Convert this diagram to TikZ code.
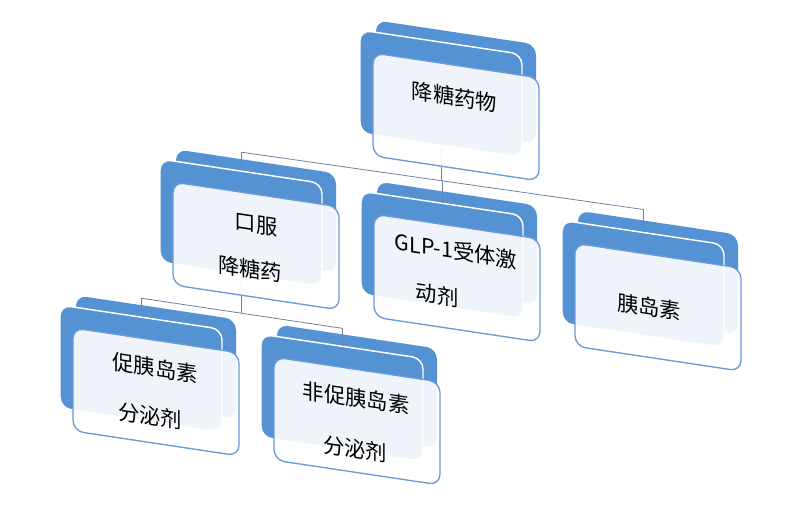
\documentclass[tikz,border=0pt]{standalone}
\usepackage{fontspec}
\newfontfamily\cjk{Noto Sans CJK SC}
\definecolor{cardblue}{RGB}{84,146,212}
\definecolor{lineclr}{RGB}{112,130,160}
\definecolor{frontedge}{RGB}{108,154,214}
\tikzset{
  backcard/.style={draw=none,fill=cardblue,rounded corners=8pt,minimum width=120pt,minimum height=74.25pt,inner sep=0pt},
  midcard/.style={draw=white,line width=1.1pt,fill=cardblue,rounded corners=8pt,minimum width=121.5pt,minimum height=77.25pt,inner sep=0pt},
  frontcard/.style={draw=frontedge,line width=1pt,fill=white,fill opacity=0.9,rounded corners=8pt,minimum width=124.5pt,minimum height=77.25pt,inner sep=0pt},
  lbl/.style={font=\cjk\fontsize{16}{19}\selectfont,text=black,inner sep=0pt},
  conn/.style={draw=lineclr,line width=0.6pt}
}
\begin{document}
\begin{tikzpicture}[x=0.75pt,y=-0.75pt]
\useasboundingbox (0,0) rectangle (798,516);
\begin{scope}[yslant=-0.15,transform shape]
% back cards
\node[backcard] (A-back) at (456,13.5) {};
\node[backcard] (B-back) at (256,172.5) {};
\node[backcard] (C-back) at (457,174.5) {};
\node[backcard] (D-back) at (658,173.5) {};
\node[backcard] (E-back) at (156,333.5) {};
\node[backcard] (F-back) at (357,332.5) {};
% connector junctions
\coordinate (jA) at (441,115);
\coordinate (jB) at (241,116);
\coordinate (jC) at (442,115);
\coordinate (jD) at (643,113);
\coordinate (kB) at (241,277);
\coordinate (kE) at (141,277);
\coordinate (kF) at (342,277);
% middle cards
\node[midcard] (A) at (441,27.5) {};
\node[midcard] (B) at (241,186.5) {};
\node[midcard] (C) at (442,188.5) {};
\node[midcard] (D) at (643,187.5) {};
\node[midcard] (E) at (141,347.5) {};
\node[midcard] (F) at (342,346.5) {};
% connectors
\draw[conn] (A.south) -- (jA);
\draw[conn] (jB) -- (jD);
\draw[conn] (jB) -- (B.north);
\draw[conn] (jC) -- (C.north);
\draw[conn] (jD) -- (D.north);
\draw[conn] (B.south) -- (kB);
\draw[conn] (kE) -- (kF);
\draw[conn] (kE) -- (E.north);
\draw[conn] (kF) -- (F.north);
% front cards
\node[frontcard] (A-front) at (456,48.5) {};
\node[frontcard] (B-front) at (256,207.5) {};
\node[frontcard] (C-front) at (457,209.5) {};
\node[frontcard] (D-front) at (658,208.5) {};
\node[frontcard] (E-front) at (156,368.5) {};
\node[frontcard] (F-front) at (357,367.5) {};
% labels
\node[lbl] (A-t) at (454.5,28.8) {降糖药物};
\node[lbl] (B-t1) at (256,186.1) {口服};
\node[lbl] (B-t2) at (250,231.5) {降糖药};
\node[lbl] (C-t1) at (456,182.6) {GLP-1受体激};
\node[lbl] (C-t2) at (437,229.5) {动剂};
\node[lbl] (D-t) at (649,209.7) {胰岛素};
\node[lbl] (E-t1) at (155,344.8) {促胰岛素};
\node[lbl] (E-t2) at (150,393.5) {分泌剂};
\node[lbl] (F-t1) at (356,344.6) {非促胰岛素};
\node[lbl] (F-t2) at (355,395.8) {分泌剂};
\end{scope}
\end{tikzpicture}
\end{document}
